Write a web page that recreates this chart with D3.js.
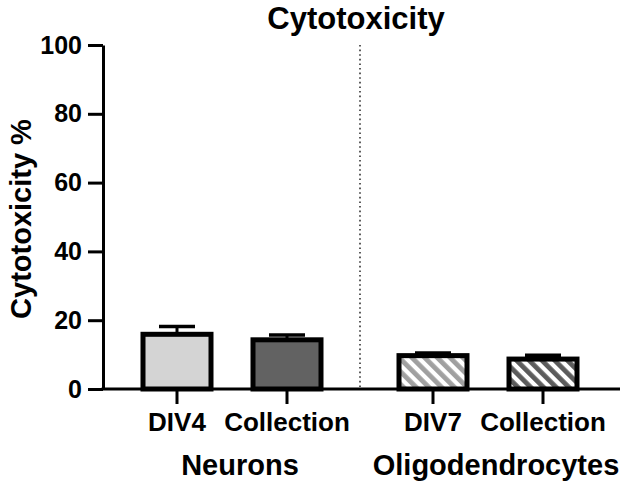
<!DOCTYPE html>
<html>
<head>
<meta charset="utf-8">
<script src="https://cdn.jsdelivr.net/npm/d3@7"></script>
<style>
  body { margin: 0; background: #fff; }
  text { font-family: "Liberation Sans", Arial, sans-serif; font-weight: bold; fill: #000; }
</style>
</head>
<body>
<svg id="chart" width="624" height="485"></svg>
<script>
// chart data
var groups = ['Neurons', 'Oligodendrocytes'];
var categories = ['DIV4', 'Collection', 'DIV7', 'Collection'];
var categoryGroup = [0, 0, 1, 1];
var values = [15.9, 14.3, 9.7, 8.7];
var errors = [2.3, 1.4, 0.8, 1.1];
var yTicks = [0, 20, 40, 60, 80, 100];

var svg = d3.select('#chart');

// note: "top" is taken by window.top, so plot edges get their own names
var plotLeft = 103, plotRight = 620, plotTop = 45, plotBottom = 389;

var y = d3.scaleLinear().domain([0, 100]).range([plotBottom, plotTop]);

/* groups are a band scale, the two bars of a group sit inside it */
var xGroup = d3.scaleBand().domain(groups).range([104, 616]).padding(0);
var xInner = d3.scalePoint().domain([0, 1]).range([-55, 55]);

function barX(i) {
    var g = groups[categoryGroup[i]];
    var idx = categoryGroup.slice(0, i).filter(function (d) { return d === categoryGroup[i]; }).length;
    return xGroup(g) + xGroup.bandwidth() / 2 + xInner(idx);
}

var BAR_W = 68;
var fills = ['#d4d4d4', '#626262', 'url(#hatchLight)', 'url(#hatchDark)'];

/* hatch patterns for the oligodendrocyte bars */
var defs = svg.append('defs');
[['hatchLight', '#a0a0a0'], ['hatchDark', '#5c5c5c']].forEach(function (p) {
    var pat = defs.append('pattern')
        .attr('id', p[0])
        .attr('patternUnits', 'userSpaceOnUse')
        .attr('width', 9).attr('height', 9)
        .attr('patternTransform', 'rotate(-45)');
    pat.append('rect').attr('width', 9).attr('height', 9).attr('fill', '#fff');
    pat.append('rect').attr('width', 4.8).attr('height', 9).attr('fill', p[1]);
});

// title
svg.append('text')
    .attr('x', 356).attr('y', 29)
    .attr('text-anchor', 'middle')
    .style('font-size', '31px')
    .text('Cytotoxicity');

// y axis label
svg.append('text')
    .attr('transform', 'translate(31,' + ((plotTop + plotBottom) / 2 + 2) + ') rotate(-90)')
    .attr('text-anchor', 'middle')
    .style('font-size', '29px')
    .text('Cytotoxicity %');

// dotted divider between groups
svg.append('line')
    .attr('x1', xGroup(groups[1])).attr('x2', xGroup(groups[1]))
    .attr('y1', y(100)).attr('y2', y(0))
    .attr('stroke', '#333')
    .attr('stroke-width', 1.6)
    .attr('stroke-dasharray', '1.6,3');

// error bars (upper only)
var err = svg.append('g');
values.forEach(function (v, i) {
    var cx = barX(i);
    err.append('line')
        .attr('x1', cx).attr('x2', cx)
        .attr('y1', y(v)).attr('y2', y(v + errors[i]))
        .attr('stroke', '#000').attr('stroke-width', 3);
    err.append('line')
        .attr('x1', cx - 18).attr('x2', cx + 18)
        .attr('y1', y(v + errors[i])).attr('y2', y(v + errors[i]))
        .attr('stroke', '#000').attr('stroke-width', 3.5);
});

// bars
svg.append('g').selectAll('rect')
    .data(values)
    .enter().append('rect')
    .attr('x', function (d, i) { return barX(i) - BAR_W / 2; })
    .attr('y', function (d) { return y(d); })
    .attr('width', BAR_W)
    .attr('height', function (d) { return y(0) - y(d); })
    .attr('fill', function (d, i) { return fills[i]; })
    .attr('stroke', '#000')
    .attr('stroke-width', 5);

// y axis
var yAxis = svg.append('g')
    .attr('transform', 'translate(' + plotLeft + ',0)')
    .call(d3.axisLeft(y).tickValues(yTicks).tickSize(15).tickSizeOuter(0).tickPadding(6));
yAxis.select('.domain').attr('stroke-width', 3).attr('stroke', '#000');
yAxis.selectAll('.tick line').attr('stroke-width', 3).attr('stroke', '#000');
yAxis.selectAll('.tick text')
    .style('font-size', '25px')
    .style('font-family', '"Liberation Sans", Arial, sans-serif')
    .style('font-weight', 'bold')
    .attr('fill', '#000');

// x axis line and ticks
svg.append('line')
    .attr('x1', plotLeft - 1.5).attr('x2', plotRight)
    .attr('y1', y(0)).attr('y2', y(0))
    .attr('stroke', '#000').attr('stroke-width', 3);

var xt = svg.append('g').selectAll('g')
    .data(categories)
    .enter().append('g')
    .attr('transform', function (d, i) { return 'translate(' + barX(i) + ',' + y(0) + ')'; });
xt.append('line')
    .attr('y1', 0).attr('y2', 15)
    .attr('stroke', '#000').attr('stroke-width', 3);
xt.append('text')
    .attr('y', 42)
    .attr('text-anchor', 'middle')
    .style('font-size', '26px')
    .text(function (d) { return d; });

// group labels
svg.append('g').selectAll('text')
    .data(groups)
    .enter().append('text')
    .attr('x', function (d) { return xGroup(d) + xGroup.bandwidth() / 2 + 8; })
    .attr('y', 475)
    .attr('text-anchor', 'middle')
    .style('font-size', '29px')
    .text(function (d) { return d; });
</script>
</body>
</html>
